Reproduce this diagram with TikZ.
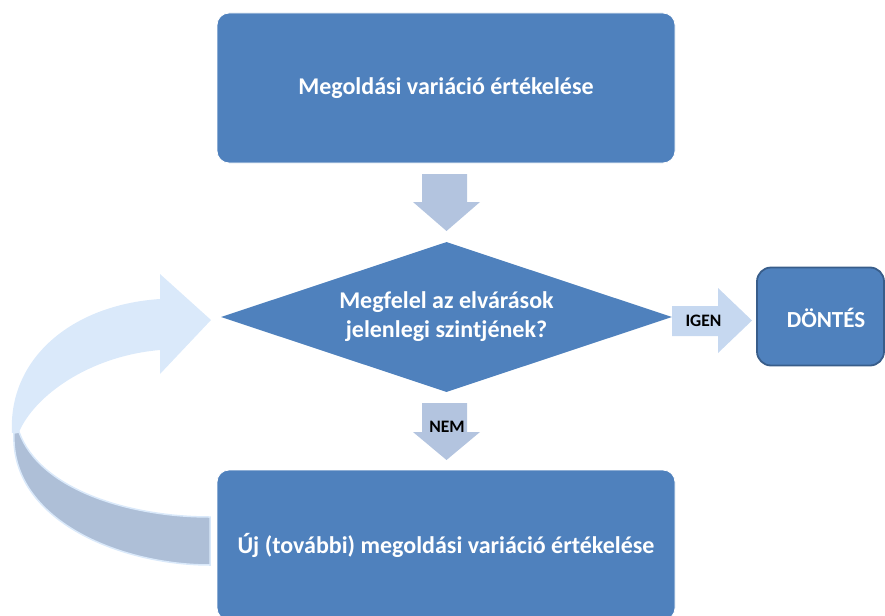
\documentclass[tikz,border=0pt]{standalone}
\usepackage{fontspec}
\setmainfont{Carlito}
\usetikzlibrary{shapes.geometric}
\definecolor{boxblue}{HTML}{4F81BD}
\definecolor{boxedge}{HTML}{385D8A}
\definecolor{downarrow}{HTML}{B3C4DF}
\definecolor{sidearrow}{HTML}{C6D8F0}
\definecolor{looplight}{HTML}{DAE9FA}
\definecolor{loopdark}{HTML}{AEBFD7}
\begin{document}
\begin{tikzpicture}[x=1pt,y=-1pt,
  stepbox/.style={rectangle, fill=boxblue, draw=white, line width=0.8pt,
    rounded corners=12pt, minimum width=458pt, minimum height=150pt,
    inner sep=0pt, text=white, font=\fontsize{24}{28}\selectfont\bfseries},
  question/.style={diamond, fill=boxblue, aspect=3, inner sep=0pt,
    minimum width=451pt, minimum height=150pt, align=center,
    text=white, font=\fontsize{24}{29}\selectfont\bfseries},
  endbox/.style={rectangle, fill=boxblue, draw=boxedge, line width=1.8pt,
    rounded corners=14pt, minimum width=127pt, minimum height=98pt,
    inner sep=0pt},
  endtext/.style={inner sep=0pt, text=white, font=\fontsize{23}{27}\selectfont\bfseries},
  blockarrow/.style={fill=downarrow, draw=none},
  arrowlabel/.style={inner sep=0pt, text=black, font=\fontsize{17.5}{20}\selectfont\bfseries}]
\clip (0,0) rectangle (885,615);

% main flow
\node[stepbox] (eval) at (446,88) {Megoldási variáció értékelése};
\node[question] (check) at (446.5,317) {Megfelel az elvárások\\jelenlegi szintjének?};
\node[endbox] (decide) at (820.5,316.5) {};
\node[endtext] (decidetext) at (826,318) {DÖNTÉS};
\node[stepbox] (neweval) at (446,545) {Új (további) megoldási variáció értékelése};

% block arrow: evaluation -> question
\fill[blockarrow] (422,174) -- (467,174) -- (467,202) -- (480,202) -- (446.5,231)
  -- (413,202) -- (422,202) -- cycle;

% block arrow: question -> new evaluation (NEM)
\fill[blockarrow] (422,403) -- (467,403) -- (467,432) -- (480,432) -- (446.5,460)
  -- (413,432) -- (422,432) -- cycle;
\node[arrowlabel] (no) at (447,427) {NEM};

% block arrow: question -> decision (IGEN)
\fill[sidearrow] (672,306) -- (718,306) -- (718,288) -- (752,320.5) -- (718,353)
  -- (718,336) -- (672,336) -- cycle;
\node[arrowlabel] (yes) at (703.5,321) {IGEN};

% loop arrow back to the question
\fill[loopdark, draw=looplight, line width=1.5pt]
  (14,433) .. controls (10,520) and (120,565) .. (210,565)
  -- (210,517) .. controls (130,517) and (40,490) .. (19,432) -- cycle;
\fill[looplight]
  (19,432) .. controls (35,395) and (90,356) .. (160,350)
  -- (160,374) -- (211,320) -- (160,274) -- (160,299)
  .. controls (70,305) and (8,360) .. (12,433) -- cycle;
\end{tikzpicture}
\end{document}
